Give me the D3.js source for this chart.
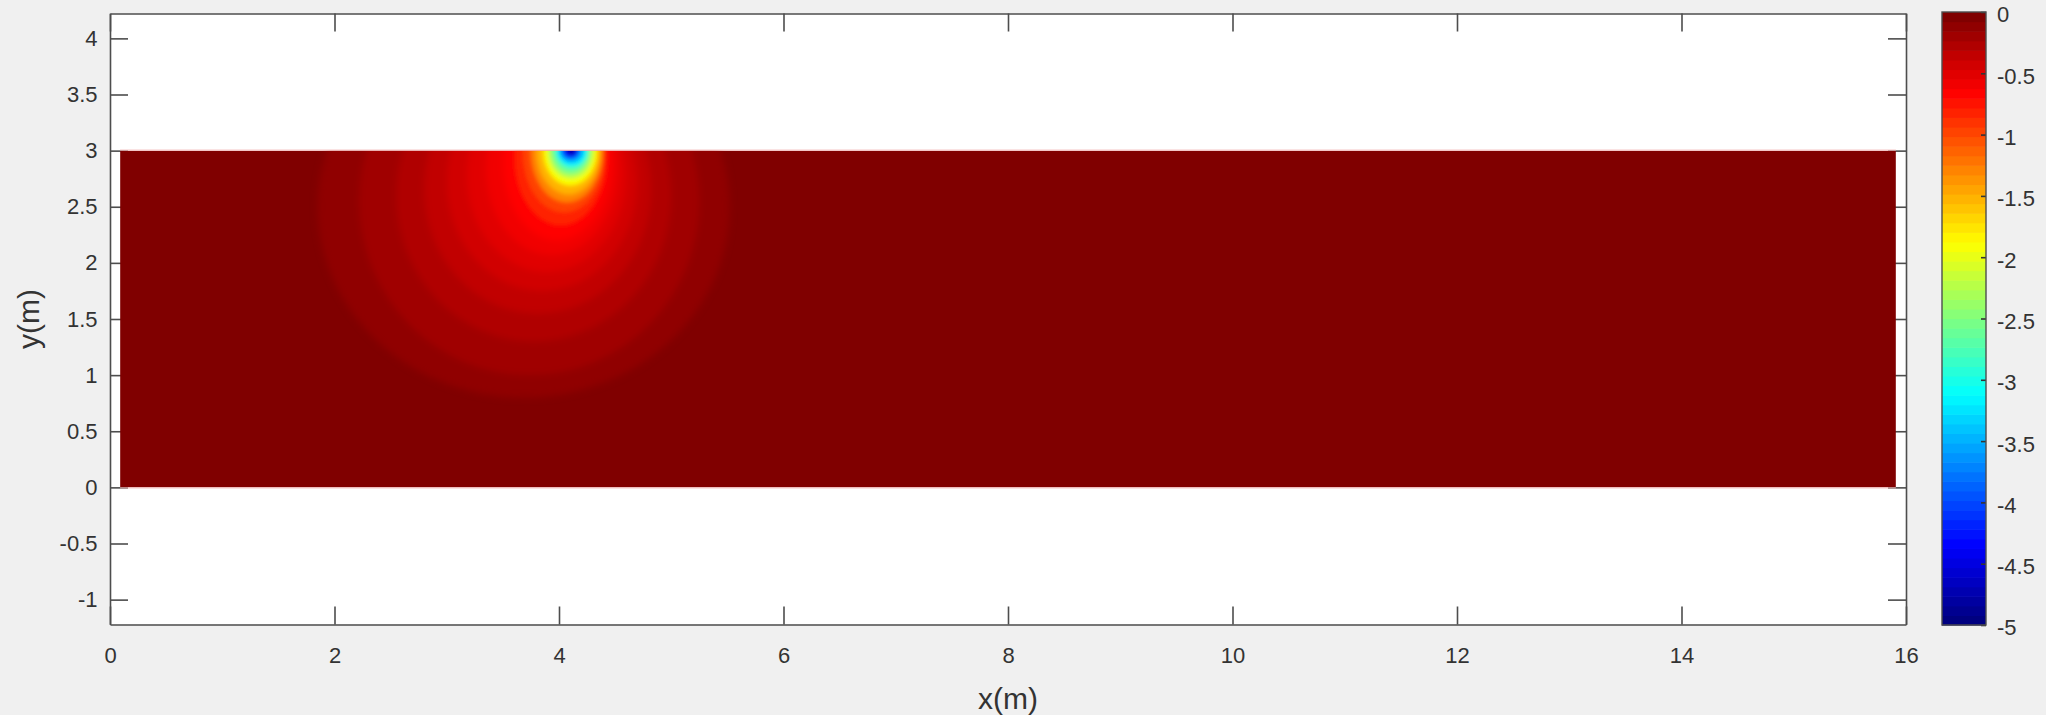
<!DOCTYPE html>
<html>
<head>
<meta charset="utf-8">
<script src="https://cdn.jsdelivr.net/npm/d3@7"></script>
<style>
  html, body { margin: 0; padding: 0; background: #f0f0f0; }
  svg { display: block; }
  text { font-family: "Liberation Sans", Arial, sans-serif; fill: #333; }
</style>
</head>
<body>
<svg id="chart" width="2046" height="715"></svg>
<script>
// ---- axis ticks ----
const xTicks = [0, 2, 4, 6, 8, 10, 12, 14, 16];
const xTickLabels = ["0", "2", "4", "6", "8", "10", "12", "14", "16"];
const yTicks = [-1, -0.5, 0, 0.5, 1, 1.5, 2, 2.5, 3, 3.5, 4];
const yTickLabels = ["-1", "-0.5", "0", "0.5", "1", "1.5", "2", "2.5", "3", "3.5", "4"];
const cbarTicks = [0, -0.5, -1, -1.5, -2, -2.5, -3, -3.5, -4, -4.5, -5];
const cbarTickLabels = ["0", "-0.5", "-1", "-1.5", "-2", "-2.5", "-3", "-3.5", "-4", "-4.5", "-5"];

// ---- model domain (m) ----
const domainX = [0.09, 15.91];
const domainY = [0, 3];
const valueRange = [-5, 0];

// ---- iso-levels of the field: value and the extent of each closed level curve (m) ----
const levelValue   = [-0.078, -0.156, -0.234, -0.313, -0.391, -0.469, -0.547, -0.625, -0.8, -1.0, -1.25, -1.5, -1.875, -2.2, -2.5, -2.8, -3.125, -3.5, -3.9, -4.3, -4.7];
const levelLeft    = [1.85, 2.22, 2.55, 2.80, 3.00, 3.18, 3.35, 3.50, 3.60, 3.68, 3.75, 3.80, 3.86, 3.90, 3.93, 3.96, 3.98, 4.00, 4.02, 4.04, 4.07];
const levelRight   = [5.52, 5.25, 5.00, 4.82, 4.70, 4.60, 4.52, 4.46, 4.43, 4.41, 4.39, 4.37, 4.34, 4.31, 4.28, 4.26, 4.25, 4.22, 4.19, 4.17, 4.15];
const levelBottom  = [0.80, 1.00, 1.30, 1.55, 1.75, 1.92, 2.07, 2.20, 2.33, 2.45, 2.54, 2.61, 2.69, 2.75, 2.79, 2.83, 2.86, 2.89, 2.92, 2.94, 2.96];
const levelCenterY = [2.50, 2.55, 2.60, 2.66, 2.72, 2.78, 2.84, 2.90, 2.94, 2.98, 3.0, 3.0, 3.0, 3.0, 3.0, 3.0, 3.0, 3.0, 3.0, 3.0, 3.0];

// ---- jet colour map, 64 entries ----
const jetStops  = [0, 0.125, 0.375, 0.625, 0.875, 1];
const jetColors = ["#000080", "#0000ff", "#00ffff", "#ffff00", "#ff0000", "#800000"];
const nColors = 64;

const jetScale = d3.scaleLinear().domain(jetStops).range(jetColors).interpolate(d3.interpolateRgb);
const jet64 = d3.range(nColors).map(i => jetScale(i / (nColors - 1)));
const colorOf = v => {
  const t = (v - valueRange[0]) / (valueRange[1] - valueRange[0]);
  const idx = Math.max(0, Math.min(nColors - 1, Math.floor(t * nColors)));
  return jet64[idx];
};

// ---- layout ----
const plot = { left: 110, right: 1906, top: 13.5, bottom: 624.5 };
const xScale = d3.scaleLinear().domain([0, 16]).range([plot.left, plot.right]);
const pxPerUnit = (plot.right - plot.left) / 16;
const ySpan = (plot.bottom - plot.top) / pxPerUnit;
const yScale = d3.scaleLinear().domain([1.5 - ySpan / 2, 1.5 + ySpan / 2]).range([plot.bottom, plot.top]);

const svg = d3.select("#chart");
const axisColor = "#4d4d4d";
const tickFont = 22;

svg.append("rect").attr("x", plot.left).attr("y", plot.top)
  .attr("width", plot.right - plot.left).attr("height", plot.bottom - plot.top)
  .attr("fill", "#ffffff");

const styleAxis = g => {
  g.selectAll(".domain").attr("stroke", axisColor).attr("stroke-width", 1.6);
  g.selectAll(".tick line").attr("stroke", axisColor).attr("stroke-width", 1.6);
  g.selectAll(".tick text").attr("font-size", tickFont).attr("fill", "#333")
    .attr("font-family", "Liberation Sans, Arial, sans-serif");
};

// ticks sit underneath the field
const axesG = svg.append("g");
axesG.append("g").attr("transform", `translate(0,${plot.bottom})`)
  .call(d3.axisBottom(xScale).tickValues(xTicks).tickSizeInner(-18).tickSizeOuter(0).tickPadding(23)
    .tickFormat((d, i) => xTickLabels[i]))
  .call(styleAxis);
axesG.append("g").attr("transform", `translate(0,${plot.top})`)
  .call(d3.axisTop(xScale).tickValues(xTicks).tickSizeInner(-18).tickSizeOuter(0).tickFormat(""))
  .call(styleAxis);
axesG.append("g").attr("transform", `translate(${plot.left},0)`)
  .call(d3.axisLeft(yScale).tickValues(yTicks).tickSizeInner(-18).tickSizeOuter(0).tickPadding(12.5)
    .tickFormat((d, i) => yTickLabels[i]))
  .call(styleAxis);
axesG.append("g").attr("transform", `translate(${plot.right},0)`)
  .call(d3.axisRight(yScale).tickValues(yTicks).tickSizeInner(-18).tickSizeOuter(0).tickFormat(""))
  .call(styleAxis);

// ---- field ----
const defs = svg.append("defs");
defs.append("clipPath").attr("id", "fieldClip").append("rect")
  .attr("x", xScale(domainX[0])).attr("y", yScale(domainY[1]))
  .attr("width", xScale(domainX[1]) - xScale(domainX[0]))
  .attr("height", yScale(domainY[0]) - yScale(domainY[1]));
const addBlur = (id, s) => defs.append("filter").attr("id", id)
  .attr("x", "-20%").attr("y", "-20%").attr("width", "140%").attr("height", "140%")
  .append("feGaussianBlur").attr("stdDeviation", s);
addBlur("softOuter", 3.5);
addBlur("softInner", 1.9);

const fieldG = svg.append("g").attr("clip-path", "url(#fieldClip)");
fieldG.append("rect")
  .attr("x", xScale(domainX[0])).attr("y", yScale(domainY[1]))
  .attr("width", xScale(domainX[1]) - xScale(domainX[0]))
  .attr("height", yScale(domainY[0]) - yScale(domainY[1]))
  .attr("fill", colorOf(0));

const levels = levelValue.map((v, i) => ({
  v,
  cx: (levelLeft[i] + levelRight[i]) / 2,
  rx: (levelRight[i] - levelLeft[i]) / 2,
  cy: levelCenterY[i],
  ry: levelCenterY[i] - levelBottom[i]
}));

const drawLevels = (sel, data) => sel.selectAll("ellipse").data(data).join("ellipse")
  .attr("cx", d => xScale(d.cx))
  .attr("cy", d => yScale(d.cy))
  .attr("rx", d => xScale(d.cx + d.rx) - xScale(d.cx))
  .attr("ry", d => yScale(d.cy - d.ry) - yScale(d.cy))
  .attr("fill", d => colorOf(d.v - 1e-3));

fieldG.append("g").attr("filter", "url(#softOuter)").call(drawLevels, levels.filter(d => d.v > -0.7));
fieldG.append("g").attr("filter", "url(#softInner)").call(drawLevels, levels.filter(d => d.v <= -0.7));

// faint edge of the field along the surface and the base
svg.append("line")
  .attr("x1", xScale(domainX[0])).attr("x2", xScale(domainX[1]))
  .attr("y1", yScale(domainY[1]) - 0.5).attr("y2", yScale(domainY[1]) - 0.5)
  .attr("stroke", "#f1b3b3").attr("stroke-width", 1);
svg.append("line")
  .attr("x1", xScale(domainX[0])).attr("x2", xScale(domainX[1]))
  .attr("y1", yScale(domainY[0]) + 0.5).attr("y2", yScale(domainY[0]) + 0.5)
  .attr("stroke", "#f1b3b3").attr("stroke-width", 1);

// ---- axis labels ----
svg.append("text")
  .attr("x", (plot.left + plot.right) / 2).attr("y", 709)
  .attr("text-anchor", "middle").attr("font-size", 30)
  .text("x(m)");
svg.append("text")
  .attr("transform", `translate(39,${(plot.top + plot.bottom) / 2}) rotate(-90)`)
  .attr("text-anchor", "middle").attr("font-size", 30)
  .text("y(m)");

// ---- colour bar ----
const cbar = { left: 1942, right: 1986, top: 12, bottom: 625 };
const cbScale = d3.scaleLinear().domain(valueRange).range([cbar.bottom, cbar.top]);
const step = (valueRange[1] - valueRange[0]) / nColors;
svg.append("g").selectAll("rect").data(jet64).join("rect")
  .attr("x", cbar.left)
  .attr("width", cbar.right - cbar.left)
  .attr("y", (c, i) => cbScale(valueRange[0] + (i + 1) * step))
  .attr("height", (c, i) => cbScale(valueRange[0] + i * step) - cbScale(valueRange[0] + (i + 1) * step) + 0.6)
  .attr("fill", c => c);

const cbAxis = svg.append("g").attr("transform", `translate(${cbar.right},0)`)
  .call(d3.axisRight(cbScale).tickValues(cbarTicks).tickSizeInner(-5).tickSizeOuter(0).tickPadding(11)
    .tickFormat((d, i) => cbarTickLabels[i]))
  .call(styleAxis);
cbAxis.select(".domain").remove();
cbAxis.selectAll(".tick line").attr("stroke", "#333");
cbAxis.selectAll(".tick text").attr("dy", "0.45em");

svg.append("rect")
  .attr("x", cbar.left).attr("y", cbar.top)
  .attr("width", cbar.right - cbar.left).attr("height", cbar.bottom - cbar.top)
  .attr("fill", "none").attr("stroke", axisColor).attr("stroke-width", 1.4);
</script>
</body>
</html>
